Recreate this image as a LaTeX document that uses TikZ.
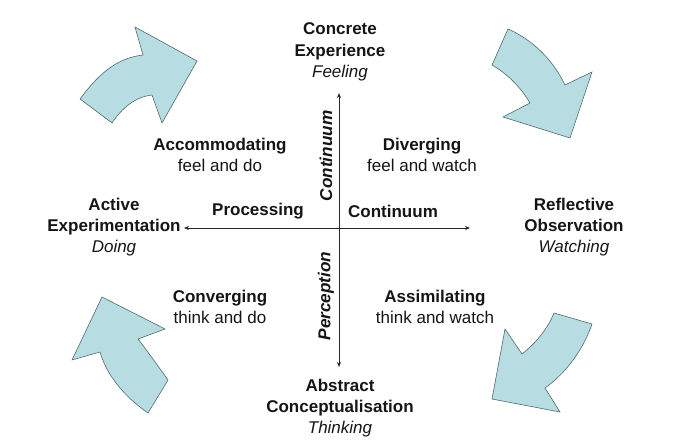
\documentclass[tikz,border=0pt]{standalone}
\usepackage{fontspec}
\setmainfont{Liberation Sans}
\usetikzlibrary{arrows.meta}
\definecolor{arrowfill}{HTML}{B7DDE3}
\definecolor{arrowedge}{HTML}{4F6B6E}
\definecolor{txt}{HTML}{151515}
\begin{document}
\begin{tikzpicture}[x=1pt,y=-1pt,
  lbl/.style={align=center,text=txt,font=\fontsize{17}{21.3}\selectfont,inner sep=0pt},
  vlbl/.style={text=txt,font=\fontsize{17.2}{21}\selectfont\bfseries\itshape,inner sep=0pt,rotate=90},
  cyc/.style={fill=arrowfill,draw=arrowedge,line width=0.6pt,line join=miter},
  axis/.style={draw=black!85,line width=0.8pt,{Stealth[length=5pt,width=4pt]}-{Stealth[length=5pt,width=4pt]}}]
\useasboundingbox (0,0) rectangle (700,441);

% cycle arrows
\path[cyc] (80,99) .. controls (100,72) and (118,58) .. (143,55) -- (135,27) -- (197,61) -- (162,123) -- (152,95) .. controls (135,97) and (122,108) .. (112,123) -- cycle;
\path[cyc] (508,29) .. controls (533,40) and (553,60) .. (565,85) -- (592,72) -- (570,138) -- (503,117) -- (530,103) .. controls (520,86) and (506,73) .. (492,65) -- cycle;
\path[cyc] (592,324) .. controls (583,350) and (566,373) .. (545,388) -- (560,412) -- (492,399) -- (505,329) -- (522,354) .. controls (537,342) and (548,328) .. (554,313) -- cycle;
\path[cyc] (148,413) .. controls (122,395) and (106,373) .. (100,352) -- (72,360) -- (102,297) -- (165,329) -- (138,339) .. controls (148,352) and (158,366) .. (168,380) -- cycle;

% axes
\coordinate (top) at (339,93);
\coordinate (bot) at (339,367);
\coordinate (lft) at (184,228);
\coordinate (rgt) at (470,228);
\draw[axis] (top) -- (bot);
\draw[axis] (lft) -- (rgt);

% labels
\node[lbl] (ce) at (340,52) {\bfseries Concrete\\\bfseries Experience\\\itshape Feeling};
\node[lbl] (ac) at (340,408) {\bfseries Abstract\\\bfseries Conceptualisation\\\itshape Thinking};
\node[lbl] (ae) at (114,227) {\bfseries Active\\\bfseries Experimentation\\\itshape Doing};
\node[lbl] (ro) at (574,227) {\bfseries Reflective\\\bfseries Observation\\\itshape Watching};
\node[lbl] (acc) at (220,155) {\bfseries Accommodating\\feel and do};
\node[lbl] (div) at (422,155) {\bfseries Diverging\\feel and watch};
\node[lbl] (con) at (220,307) {\bfseries Converging\\think and do};
\node[lbl] (ass) at (435,307) {\bfseries Assimilating\\think and watch};
\node[lbl,font=\fontsize{17}{21}\selectfont\bfseries] (proc) at (258,211) {Processing};
\node[lbl,font=\fontsize{17}{21}\selectfont\bfseries] (cont) at (393,211) {Continuum};
\node[vlbl] (vcont) at (326,156) {Continuum};
\node[vlbl] (perc) at (326,296) {Perception};
\end{tikzpicture}
\end{document}
